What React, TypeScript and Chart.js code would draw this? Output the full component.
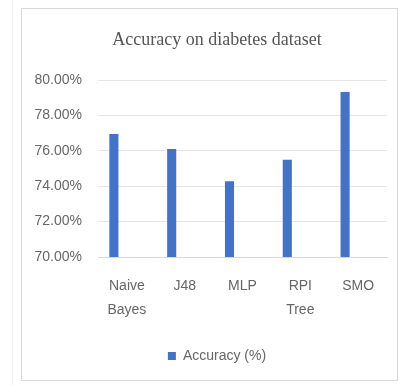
import React, { useEffect, useRef } from "react";
import { Chart, registerables } from "chart.js";

Chart.register(...registerables);

const categories: string[][] = [["Naive", "Bayes"], ["J48"], ["MLP"], ["RPI", "Tree"], ["SMO"]];
const accuracy: number[] = [76.95, 76.1, 74.28, 75.5, 79.32];
const emptySeries: (number | null)[] = [null, null, null, null, null];
const seriesLabel = "Accuracy (%)";
const titleText = "Accuracy on diabetes dataset";
const yMin = 70;
const yMax = 80;
const yStep = 2;

const framePlugin = {
  id: "frame",
  beforeDraw(chart: any) {
    const ctx = chart.ctx;
    ctx.save();
    ctx.fillStyle = "#ffffff";
    ctx.fillRect(0, 0, chart.width, chart.height);
    ctx.strokeStyle = "#f0f0f0";
    ctx.lineWidth = 1;
    ctx.beginPath();
    ctx.moveTo(12.5, 0);
    ctx.lineTo(12.5, chart.height);
    ctx.stroke();
    ctx.strokeStyle = "#d9d9d9";
    ctx.strokeRect(21.5, 8.5, 376, 372);
    ctx.restore();
  },
  afterLayout(chart: any) {
    const y = chart.scales.y;
    if (y) y.left = 22;
  },
};

export default function App() {
  const ref = useRef<HTMLCanvasElement>(null);
  useEffect(() => {
    if (!ref.current) return;
    const chart = new Chart(ref.current, {
      type: "bar",
      data: {
        labels: categories,
        datasets: [
          {
            label: seriesLabel,
            data: accuracy,
            backgroundColor: "#4472C4",
            borderWidth: 0,
            barPercentage: 0.35,
            categoryPercentage: 0.9,
          },
          {
            label: "",
            data: emptySeries,
            backgroundColor: "rgba(0,0,0,0)",
            barPercentage: 0.35,
            categoryPercentage: 0.9,
          },
        ],
      },
      options: {
        animation: false,
        responsive: false,
        maintainAspectRatio: false,
        layout: { padding: { left: 47, right: 12, top: 9, bottom: 12 } },
        plugins: {
          title: {
            display: true,
            text: titleText,
            color: "#555555",
            font: { family: "Liberation Serif", size: 18, weight: "normal" },
            padding: { top: 20, bottom: 29.4 },
          },
          legend: {
            position: "bottom",
            labels: {
              filter: (item: any) => item.text !== "",
              boxWidth: 8,
              boxHeight: 8,
              color: "#666666",
              padding: 16,
              font: { family: "Liberation Sans", size: 14 },
            },
          },
          tooltip: { enabled: false },
        },
        scales: {
          x: {
            afterFit: (scale: any) => {
              scale.height = 76;
            },
            grid: { display: false, drawTicks: false },
            border: { display: true, color: "#d9d9d9" },
            ticks: {
              color: "#666666",
              padding: 17,
              maxRotation: 0,
              autoSkip: false,
              font: { family: "Liberation Sans", size: 14, lineHeight: 1.7 },
            },
          },
          y: {
            min: yMin,
            max: yMax,
            afterFit: (scale: any) => {
              scale.width = 51;
            },
            grid: { color: "#e6e6e6", drawTicks: false },
            border: { display: false },
            ticks: {
              stepSize: yStep,
              padding: 16,
              color: "#666666",
              font: { family: "Liberation Sans", size: 14 },
              callback: (v: any) => Number(v).toFixed(2) + "%",
            },
          },
        },
      },
      plugins: [framePlugin],
    });
    return () => chart.destroy();
  }, []);
  return (
    <div style={{ position: "fixed", left: 0, top: 0, width: 399, height: 385, background: "#fff" }}>
      <canvas ref={ref} width={399} height={385} style={{ width: 399, height: 385, display: "block" }} />
    </div>
  );
}
